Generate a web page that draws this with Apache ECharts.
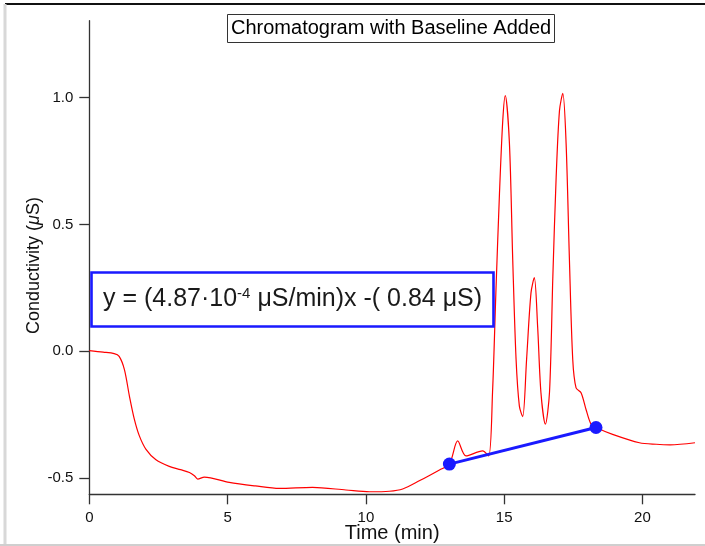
<!DOCTYPE html>
<html>
<head>
<meta charset="utf-8">
<script src="https://cdn.jsdelivr.net/npm/echarts@6/dist/echarts.min.js"></script>
<style>
html,body{margin:0;padding:0;background:#fff;}
#chart{width:705px;height:546px;}
</style>
</head>
<body>
<div id="chart"></div>
<script>
// ---- data ----
const timeMin = [0, 0.5, 0.9, 1.08, 1.27, 1.45, 1.63, 1.81, 2.05, 2.41, 2.89, 3.3, 3.62, 3.8, 3.92, 4.16,
  5.06, 6.0, 6.87, 8.07, 9.28, 10.13, 10.85, 11.33, 11.93, 12.66, 13.02, 13.32, 13.62, 14.22, 14.44,
  14.58, 14.7, 14.83, 14.95, 15.04, 15.19, 15.31, 15.43, 15.55, 15.67, 15.81, 15.97, 16.09, 16.21,
  16.33, 16.49, 16.64, 16.76, 16.88, 17.0, 17.12, 17.24, 17.36, 17.48, 17.6, 17.78, 17.96, 18.14,
  18.32, 18.92, 19.89, 20.5, 21.0, 21.9];
const conductivity = [0.003, -0.003, -0.009, -0.02, -0.072, -0.176, -0.268, -0.333, -0.386, -0.427, -0.453, -0.466, -0.477, -0.49, -0.503, -0.495,
  -0.516, -0.53, -0.54, -0.536, -0.546, -0.553, -0.551, -0.542, -0.51, -0.467, -0.444, -0.353, -0.412, -0.392, -0.412,
  -0.16, 0.23, 0.62, 0.91, 1.007, 0.82, 0.36, -0.03, -0.216, -0.257, -0.033, 0.23, 0.29, 0.098,
  -0.163, -0.287, -0.16, 0.294, 0.686, 0.948, 1.016, 0.817, 0.36, -0.033, -0.144, -0.163, -0.229, -0.287,
  -0.30, -0.327, -0.36, -0.366, -0.368, -0.36];
const baselineTime = [13.02, 18.32];
const baselineValue = [-0.444, -0.30];
const xTicks = [0, 5, 10, 15, 20];
const xTickLabels = ['0', '5', '10', '15', '20'];
const yTicks = [-0.5, 0, 0.5, 1.0];
const yTickLabels = ['-0.5', '0.0', '0.5', '1.0'];
const titleText = 'Chromatogram with Baseline Added';
const xName = 'Time (min)';
const yName = 'Conductivity ({i|\u03BC}S)';

const FONT = '"Liberation Sans", Arial, Helvetica, sans-serif';
const chart = echarts.init(document.getElementById('chart'), null, {renderer: 'canvas'});

const redData = timeMin.map((t, i) => [t, conductivity[i]]);
const blueData = baselineTime.map((t, i) => [t, baselineValue[i]]);

const axisCommon = {
  axisLine: {show: true, onZero: false, lineStyle: {color: '#333', width: 1.3}},
  axisTick: {show: true, inside: false, length: 10, lineStyle: {color: '#333', width: 1.3}},
  splitLine: {show: false},
  nameMoveOverlap: false
};

chart.setOption({
  animation: false,
  backgroundColor: '#fff',
  title: [
    {
      text: titleText,
      left: 227, top: 14,
      padding: [4, 4],
      borderColor: '#333', borderWidth: 1,
      textStyle: {fontFamily: FONT, fontSize: 20, fontWeight: 'normal', color: '#000', lineHeight: 21}
    },
    {
      text: 'y = (4.87\u00B710{sup|-4} \u03BCS/min)x -( 0.84 \u03BCS)',
      left: 91, top: 272,
      padding: [13, 12],
      borderColor: '#1a1aff', borderWidth: 2.6,
      textStyle: {
        fontFamily: FONT, fontSize: 25, fontWeight: 'normal', color: '#1a1a1a', lineHeight: 29,
        rich: {sup: {fontFamily: FONT, fontSize: 15, color: '#1a1a1a', padding: [0, 0, 12, 0]}}
      }
    }
  ],
  grid: {left: 89.3, right: 10, top: 20.7, bottom: 51.7, containLabel: false, outerBoundsMode: 'none'},
  xAxis: Object.assign({}, axisCommon, {
    type: 'value', min: 0, max: 21.9,
    name: xName, nameLocation: 'middle', nameGap: 29,
    nameTextStyle: {fontFamily: FONT, fontSize: 20, color: '#111'},
    axisTick: Object.assign({}, axisCommon.axisTick, {customValues: xTicks}),
    axisLabel: {
      customValues: xTicks, margin: 16, fontFamily: FONT, fontSize: 15, color: '#111',
      formatter: v => xTickLabels[xTicks.indexOf(v)] ?? ''
    }
  }),
  yAxis: Object.assign({}, axisCommon, {
    type: 'value', min: -0.563, max: 1.302,
    name: yName, nameLocation: 'middle', nameGap: 46, nameRotate: 90,
    nameTextStyle: {
      fontFamily: FONT, fontSize: 18, color: '#111', padding: [0, 16, 0, 0],
      rich: {i: {fontFamily: FONT, fontSize: 18, color: '#111', fontStyle: 'italic'}}
    },
    axisTick: Object.assign({}, axisCommon.axisTick, {customValues: yTicks}),
    axisLabel: {
      customValues: yTicks, margin: 16, fontFamily: FONT, fontSize: 15, color: '#111',
      formatter: v => {
        const i = yTicks.findIndex(t => Math.abs(t - v) < 1e-9);
        return i >= 0 ? yTickLabels[i] : '';
      }
    }
  }),
  series: [
    {
      type: 'line', data: redData, smooth: 0.3, showSymbol: false,
      lineStyle: {color: '#ff0000', width: 1.2}, itemStyle: {color: '#ff0000'}, z: 2
    },
    {
      type: 'line', data: blueData, symbol: 'circle', symbolSize: 13, showSymbol: true,
      lineStyle: {color: '#1a1aff', width: 3}, itemStyle: {color: '#1a1aff'}, z: 3
    }
  ],
  graphic: [
    {type: 'line', shape: {x1: 5, y1: 4, x2: 705, y2: 4}, style: {stroke: '#111', lineWidth: 2}, z: 100},
    {type: 'line', shape: {x1: 5, y1: 4, x2: 5, y2: 546}, style: {stroke: '#d8d8d8', lineWidth: 3}, z: 100},
    {type: 'line', shape: {x1: 0, y1: 545, x2: 705, y2: 545}, style: {stroke: '#cfcfcf', lineWidth: 2}, z: 100}
  ]
});
</script>
</body>
</html>
